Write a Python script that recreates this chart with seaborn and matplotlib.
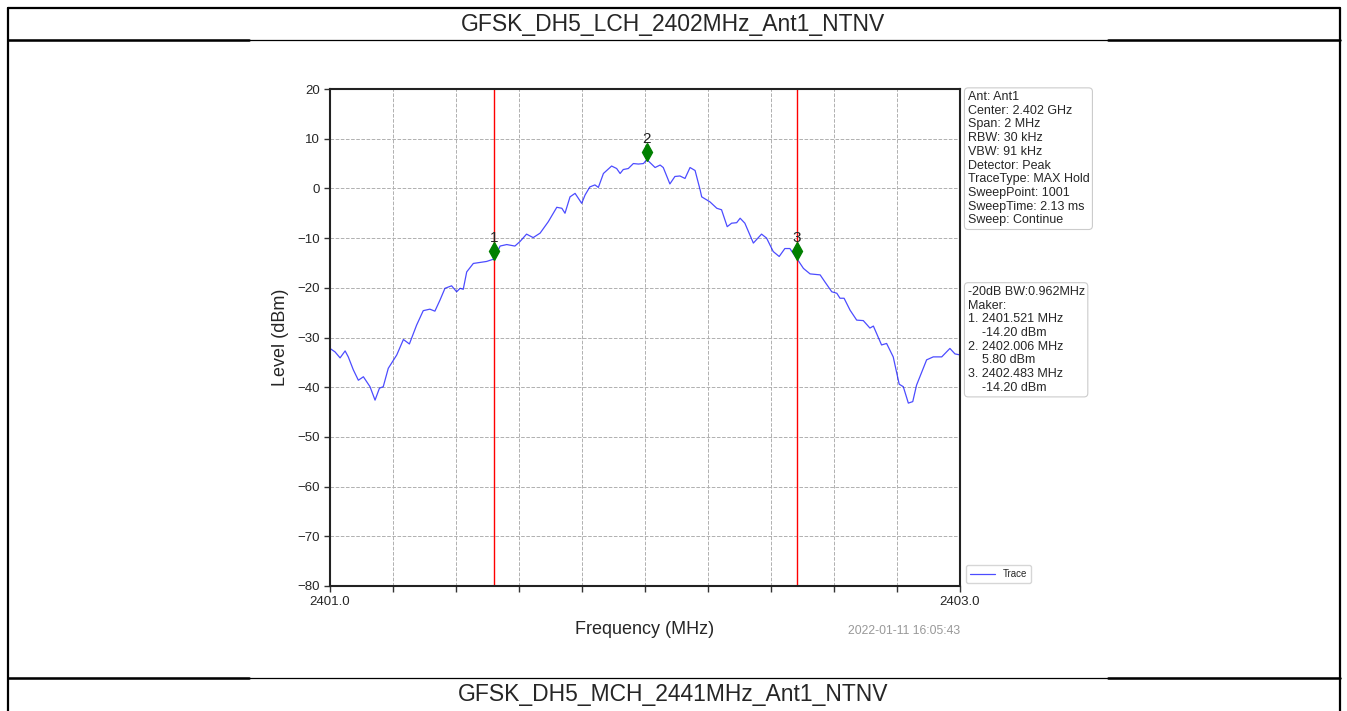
import numpy as np
import pandas as pd
import matplotlib
matplotlib.use("Agg")
import matplotlib.pyplot as plt
import matplotlib.transforms as mtransforms
import seaborn as sns

# trace (MHz, dBm)
freq_mhz = [2401.000, 2401.016, 2401.032, 2401.048, 2401.058, 2401.074, 2401.090, 2401.106,
            2401.127, 2401.143, 2401.157, 2401.169, 2401.185, 2401.212, 2401.233, 2401.252,
            2401.275, 2401.296, 2401.317, 2401.333, 2401.349, 2401.365, 2401.386, 2401.402,
            2401.413, 2401.423, 2401.434, 2401.455, 2401.476, 2401.497, 2401.521, 2401.540,
            2401.561, 2401.587, 2401.603, 2401.624, 2401.645, 2401.667, 2401.693, 2401.720,
            2401.736, 2401.746, 2401.762, 2401.778, 2401.799, 2401.810, 2401.825, 2401.841,
            2401.852, 2401.868, 2401.894, 2401.910, 2401.921, 2401.931, 2401.947, 2401.963,
            2401.979, 2401.995, 2402.006, 2402.032, 2402.048, 2402.058, 2402.079, 2402.095,
            2402.111, 2402.127, 2402.143, 2402.159, 2402.175, 2402.180, 2402.206, 2402.228,
            2402.243, 2402.261, 2402.275, 2402.291, 2402.302, 2402.317, 2402.344, 2402.370,
            2402.386, 2402.407, 2402.426, 2402.444, 2402.460, 2402.483, 2402.503, 2402.524,
            2402.556, 2402.571, 2402.593, 2402.609, 2402.619, 2402.632, 2402.651, 2402.672,
            2402.693, 2402.714, 2402.725, 2402.751, 2402.767, 2402.788, 2402.807, 2402.820,
            2402.836, 2402.850, 2402.862, 2402.894, 2402.915, 2402.942, 2402.968, 2402.984,
            2403.000]
level_dbm = [-32.2, -32.9, -34.1, -32.7, -33.9, -36.5, -38.6, -37.9,
             -39.9, -42.6, -40.2, -39.9, -36.2, -33.5, -30.4, -31.3,
             -27.5, -24.6, -24.3, -24.7, -22.5, -20.1, -19.6, -20.8,
             -20.1, -20.3, -16.8, -15.1, -14.9, -14.7, -14.2, -11.6,
             -11.3, -11.6, -10.7, -9.2, -9.9, -9.0, -6.7, -3.8,
             -4.0, -5.0, -1.7, -1.0, -3.0, -1.3, 0.3, 0.7,
             0.2, 3.0, 4.5, 4.0, 3.0, 3.8, 4.0, 5.0,
             4.9, 5.0, 5.8, 4.2, 4.7, 4.2, 0.9, 2.4,
             2.5, 2.0, 4.2, 3.6, -0.3, -1.7, -2.7, -4.0,
             -4.3, -7.7, -7.0, -6.9, -6.0, -7.0, -11.0, -9.2,
             -10.0, -12.7, -13.7, -12.1, -12.1, -14.2, -16.1, -17.2,
             -17.4, -18.8, -20.8, -21.1, -22.1, -22.1, -24.5, -26.5,
             -26.6, -28.1, -27.7, -31.5, -31.2, -33.9, -39.4, -39.9,
             -43.2, -42.9, -39.6, -34.5, -33.9, -33.9, -32.2, -33.3,
             -33.5]

marker_freq = [2401.521, 2402.006, 2402.483]
marker_level = [-14.20, 5.80, -14.20]
bw_lines = [2401.521, 2402.483]

x_ticks = [2401.0, 2401.2, 2401.4, 2401.6, 2401.8, 2402.0, 2402.2, 2402.4, 2402.6, 2402.8, 2403.0]
x_ticklabels = ["2401.0", "", "", "", "", "", "", "", "", "", "2403.0"]
y_ticks = [-80, -70, -60, -50, -40, -30, -20, -10, 0, 10, 20]

title_top = "GFSK_DH5_LCH_2402MHz_Ant1_NTNV"
title_next = "GFSK_DH5_MCH_2441MHz_Ant1_NTNV"
info_lines = ["Ant: Ant1", "Center: 2.402 GHz", "Span: 2 MHz", "RBW: 30 kHz", "VBW: 91 kHz",
              "Detector: Peak", "TraceType: MAX Hold", "SweepPoint: 1001",
              "SweepTime: 2.13 ms", "Sweep: Continue"]
bw_text = "-20dB BW:0.962MHz"
timestamp = "2022-01-11 16:05:43"

sns.set_style("ticks")
plt.rcParams['font.family'] = ['Liberation Sans', 'DejaVu Sans']

W, H = 1347, 711
fig = plt.figure(figsize=(W / 100, H / 100), dpi=100)

# page frame (report table)
page = fig.add_axes([0, 0, 1, 1], zorder=-1)
page.set_xlim(0, W)
page.set_ylim(H, 0)
page.axis("off")
for x in (8, 1340):
    page.plot([x, x], [8, H], color="black", lw=1.6)
page.plot([8, 1340], [8, 8], color="black", lw=1.6)
for y in (40, 678):
    page.plot([8, 1340], [y, y], color="black", lw=0.9)
    page.plot([8, 249], [y, y], color="black", lw=1.8)
    page.plot([1108, 1340], [y, y], color="black", lw=1.8)
page.text(W / 2, 24, title_top, ha="center", va="center", fontsize=16.5)
page.text(W / 2, 695, title_next, ha="center", va="center", fontsize=16.5)

# spectrum plot
ax = fig.add_axes([330 / W, 1 - 586 / H, 630 / W, 497 / H])
df = pd.DataFrame({"Frequency": freq_mhz, "Level": level_dbm})
sns.lineplot(data=df, x="Frequency", y="Level", ax=ax, color="#0000ff", alpha=0.7,
             lw=0.9, label="Trace", sort=False)

for f in bw_lines:
    ax.axvline(f, color="red", lw=1)

mk_trans = mtransforms.offset_copy(ax.transData, fig=fig, y=8, units="dots")
ax.plot(marker_freq, marker_level, "d", color="green", markersize=9, transform=mk_trans,
        zorder=5)
for i, (f, lv) in enumerate(zip(marker_freq, marker_level), start=1):
    ax.annotate(str(i), (f, lv), xytext=(0, 10), textcoords="offset points",
                ha="center", va="bottom", fontsize=11, color="#222222")

ax.set_xlim(2401.0, 2403.0)
ax.set_ylim(-80, 20)
ax.set_xticks(x_ticks)
ax.set_xticklabels(x_ticklabels)
ax.set_yticks(y_ticks)
ax.tick_params(labelsize=9.5, length=4, width=1, color="#333333")
ax.grid(True, ls="--", color="#b0b0b0", lw=0.7)
for sp in ax.spines.values():
    sp.set_visible(True)
    sp.set_linewidth(1.5)
    sp.set_color("#222222")
ax.set_xlabel("Frequency (MHz)", fontsize=13, labelpad=9)
ax.set_ylabel("Level (dBm)", fontsize=13, labelpad=6)

box = dict(boxstyle="round,pad=0.25,rounding_size=0.3", fc="white", ec="#cccccc", lw=0.8)
ax.text(1.012, 0.996, "\n".join(info_lines), transform=ax.transAxes, ha="left", va="top",
        fontsize=9, linespacing=1.19, bbox=box)

marker_lines = [bw_text, "Maker:"]
for i, (f, lv) in enumerate(zip(marker_freq, marker_level), start=1):
    marker_lines.append(f"{i}. {f:.3f} MHz")
    marker_lines.append(f"    {lv:.2f} dBm")
ax.text(1.012, 0.604, "\n".join(marker_lines), transform=ax.transAxes, ha="left", va="top",
        fontsize=9, linespacing=1.19, bbox=box)

ax.legend(loc="lower left", bbox_to_anchor=(1.002, -0.004), fontsize=7, frameon=True,
          handlelength=2.6, borderpad=0.4, edgecolor="#cccccc", fancybox=True)

ax.text(1.0, -0.09, timestamp, transform=ax.transAxes, ha="right", va="center",
        fontsize=8.8, color="#999999")

fig.savefig("out.png", dpi=100)
